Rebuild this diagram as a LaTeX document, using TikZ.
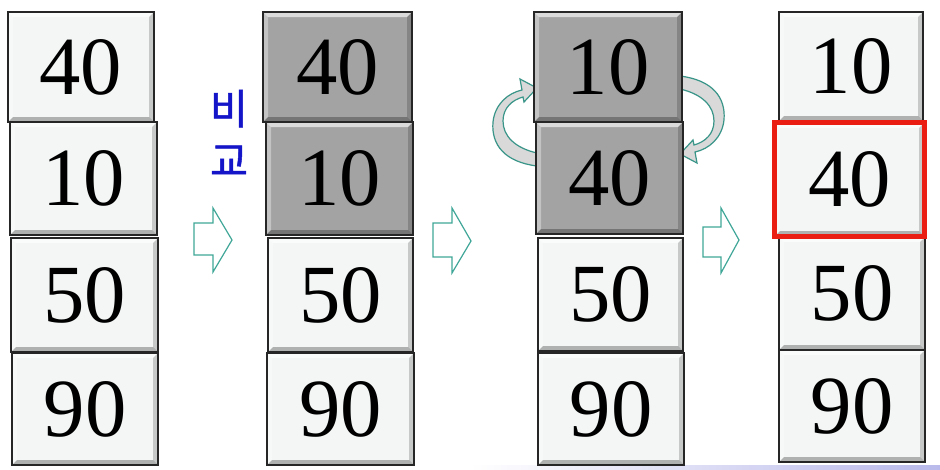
\documentclass[tikz,border=0pt]{standalone}
\usepackage{fontspec}
\usetikzlibrary{calc}
\newfontfamily\numfont{Liberation Serif}
\newfontfamily\krfont[AutoFakeBold=1.2]{Noto Sans CJK KR}
\definecolor{cellwhite}{RGB}{243,246,245}
\definecolor{cellgray}{RGB}{163,163,163}
\definecolor{arrteal}{RGB}{64,166,152}
\definecolor{krblue}{RGB}{20,20,200}
\definecolor{markred}{RGB}{235,30,20}
\definecolor{lav}{RGB}{185,185,235}
\def\ppb{path picture bounding box}
\tikzset{
  cell/.style={draw=black!85, line width=1.2pt, fill=#1, inner sep=0pt,
    font=\numfont\fontsize{62}{62}\selectfont,
    path picture={
      \fill[white,opacity=.6] (\ppb.north west) -- (\ppb.north east) -- ($(\ppb.north east)+(-5,5)$) -- ($(\ppb.north west)+(5,5)$) -- cycle;
      \fill[white,opacity=.35] (\ppb.north west) -- ($(\ppb.north west)+(5,5)$) -- ($(\ppb.south west)+(5,-5)$) -- (\ppb.south west) -- cycle;
      \fill[black,opacity=.28] (\ppb.south west) -- ($(\ppb.south west)+(5,-5)$) -- ($(\ppb.south east)+(-5,-5)$) -- (\ppb.south east) -- cycle;
      \fill[black,opacity=.18] (\ppb.north east) -- (\ppb.south east) -- ($(\ppb.south east)+(-5,-5)$) -- ($(\ppb.north east)+(-5,5)$) -- cycle;
    }},
  blockarrow/.style={draw=arrteal, line width=0.9pt, fill=white, line join=miter},
  swaparrow/.style={draw=arrteal!90!black, line width=0.9pt, fill=gray!30},
  redmark/.style={draw=markred, line width=3.8pt}
}
\newcommand{\cellbox}[7]{%
  \node[cell=#6, minimum width={(#4-#2)*0.75pt}, minimum height={(#5-#3)*0.75pt}]
    (#1) at ({(#2+#4)/2},{(#3+#5)/2}) {#7};}
\newcommand{\barrow}[8]{% x1 xb xr top shafttop tip shaftbottom bottom
  \path[blockarrow] (#1,#5) -- (#2,#5) -- (#2,#4) -- (#3,#6) -- (#2,#8) -- (#2,#7) -- (#1,#7) -- cycle;}
\begin{document}
\begin{tikzpicture}[x=0.75pt,y=-0.75pt]
\useasboundingbox (0,0) rectangle (940,469);
\fill[white] (0,0) rectangle (940,469);
\shade[left color=white, right color=lav] (470,465.5) rectangle (940,469);

% curved swap arrows
\path[swaparrow] (537,166) .. controls (505,162) and (491,145) .. (493,122)
  .. controls (495,104) and (508,93) .. (522,90) -- (520,79) -- (537,88) -- (524,102) -- (523,97)
  .. controls (512,100) and (503,108) .. (503,121)
  .. controls (503,136) and (515,148) .. (537,153) -- cycle;
\begin{scope}[rotate around={180:(608.5,121)}]
\path[swaparrow] (537,166) .. controls (505,162) and (491,145) .. (493,122)
  .. controls (495,104) and (508,93) .. (522,90) -- (520,79) -- (537,88) -- (524,102) -- (523,97)
  .. controls (512,100) and (503,108) .. (503,121)
  .. controls (503,136) and (515,148) .. (537,153) -- cycle;
\end{scope}

% column 1
\cellbox{a1}{8}{12}{154}{122}{cellwhite}{40}
\cellbox{a2}{10}{122}{157}{235}{cellwhite}{10}
\cellbox{a3}{11}{238}{158}{352}{cellwhite}{50}
\cellbox{a4}{12}{353}{158}{465}{cellwhite}{90}
% column 2
\cellbox{b1}{263}{12}{412}{122}{cellgray}{40}
\cellbox{b2}{266}{122}{413}{235}{cellgray}{10}
\cellbox{b3}{268}{238}{413}{352}{cellwhite}{50}
\cellbox{b4}{267}{353}{414}{465}{cellwhite}{90}
% column 3
\cellbox{c1}{534}{12}{682}{122}{cellgray}{10}
\cellbox{c2}{536}{122}{683}{234}{cellgray}{40}
\cellbox{c3}{538}{238}{683}{351}{cellwhite}{50}
\cellbox{c4}{538}{353}{684}{465}{cellwhite}{90}
% column 4
\cellbox{d1}{779}{12}{923}{121}{cellwhite}{10}
\cellbox{d2}{775}{123}{924}{236}{cellwhite}{40}
\cellbox{d3}{779}{237}{925}{350}{cellwhite}{50}
\cellbox{d4}{779}{350}{925}{462}{cellwhite}{90}
\draw[redmark] (d2.north west) rectangle (d2.south east);

% Korean label
\node[text=krblue, font=\krfont\bfseries\fontsize{31}{39}\selectfont, align=center, inner sep=0pt]
  (cmp) at (229,133) {비\\교};

% block arrows
\barrow{194}{213}{232}{208}{223}{240}{255}{272}
\barrow{433}{452}{471}{208}{223}{241}{257}{273}
\barrow{703}{721}{739}{208}{227}{240}{257}{273}
\end{tikzpicture}
\end{document}
